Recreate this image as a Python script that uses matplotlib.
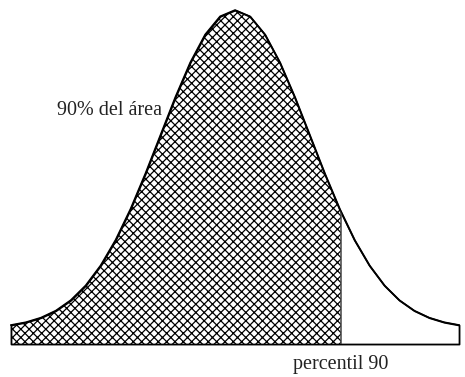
import matplotlib
matplotlib.use("Agg")
import matplotlib.pyplot as plt
from matplotlib.patches import Rectangle

# Data (standard normal curve, z in sigma units)
z_vals = [-3.0, -2.8, -2.6, -2.4, -2.2, -2.0, -1.8, -1.6, -1.4, -1.2, -1.0, -0.8, -0.6,
          -0.4, -0.2, 0.0, 0.2, 0.4, 0.6, 0.8, 1.0, 1.2, 1.4, 1.6, 1.8, 2.0, 2.2, 2.4,
          2.6, 2.8, 3.0]
density = [0.0044, 0.0079, 0.0136, 0.0224, 0.0355, 0.0540, 0.0790, 0.1109, 0.1497, 0.1942,
           0.2420, 0.2897, 0.3332, 0.3683, 0.3910, 0.3989, 0.3910, 0.3683, 0.3332, 0.2897,
           0.2420, 0.1942, 0.1497, 0.1109, 0.0790, 0.0540, 0.0355, 0.0224, 0.0136, 0.0079,
           0.0044]
cut_z = 1.42
area_label = "90% del área"
cut_label = "percentil 90"

baseline = -0.0194

plt.rcParams['hatch.linewidth'] = 0.9
fig = plt.figure(figsize=(4.65, 3.77), dpi=100)
ax = fig.add_axes([0, 0, 1, 1])
ax.set_xlim(-3.147, 3.080)
ax.set_ylim(-0.0607, 0.4115)
ax.axis('off')

# whole area outline
outline = ax.fill_between(z_vals, baseline, density, facecolor='white',
                          edgecolor='black', linewidth=1.3, zorder=1)

# hatched region up to the cut
hatch = ax.fill_between(z_vals, baseline, density, facecolor='none',
                        edgecolor='black', hatch='xxxx', linewidth=0, zorder=2)
clip_rect = Rectangle((-10, -1), cut_z + 10, 3, transform=ax.transData)
hatch.set_clip_path(clip_rect)

# curve on top
ax.plot(z_vals, density, color='black', linewidth=1.2, zorder=3)

# vertical line at cut, clipped to area under curve
vl = ax.vlines(cut_z, baseline, 1.0, color='#444444', linewidth=1.1, zorder=3)
vl.set_clip_path(outline.get_paths()[0], ax.transData)

ax.text(57 / 465, 1 - 115 / 377, area_label, transform=ax.transAxes,
        family='Liberation Serif', fontsize=14.5, ha='left', va='baseline', color='#222222')
ax.text(293 / 465, 1 - 369 / 377, cut_label, transform=ax.transAxes,
        family='Liberation Serif', fontsize=14.5, ha='left', va='baseline', color='#222222')

fig.savefig('out.png', dpi=100)
